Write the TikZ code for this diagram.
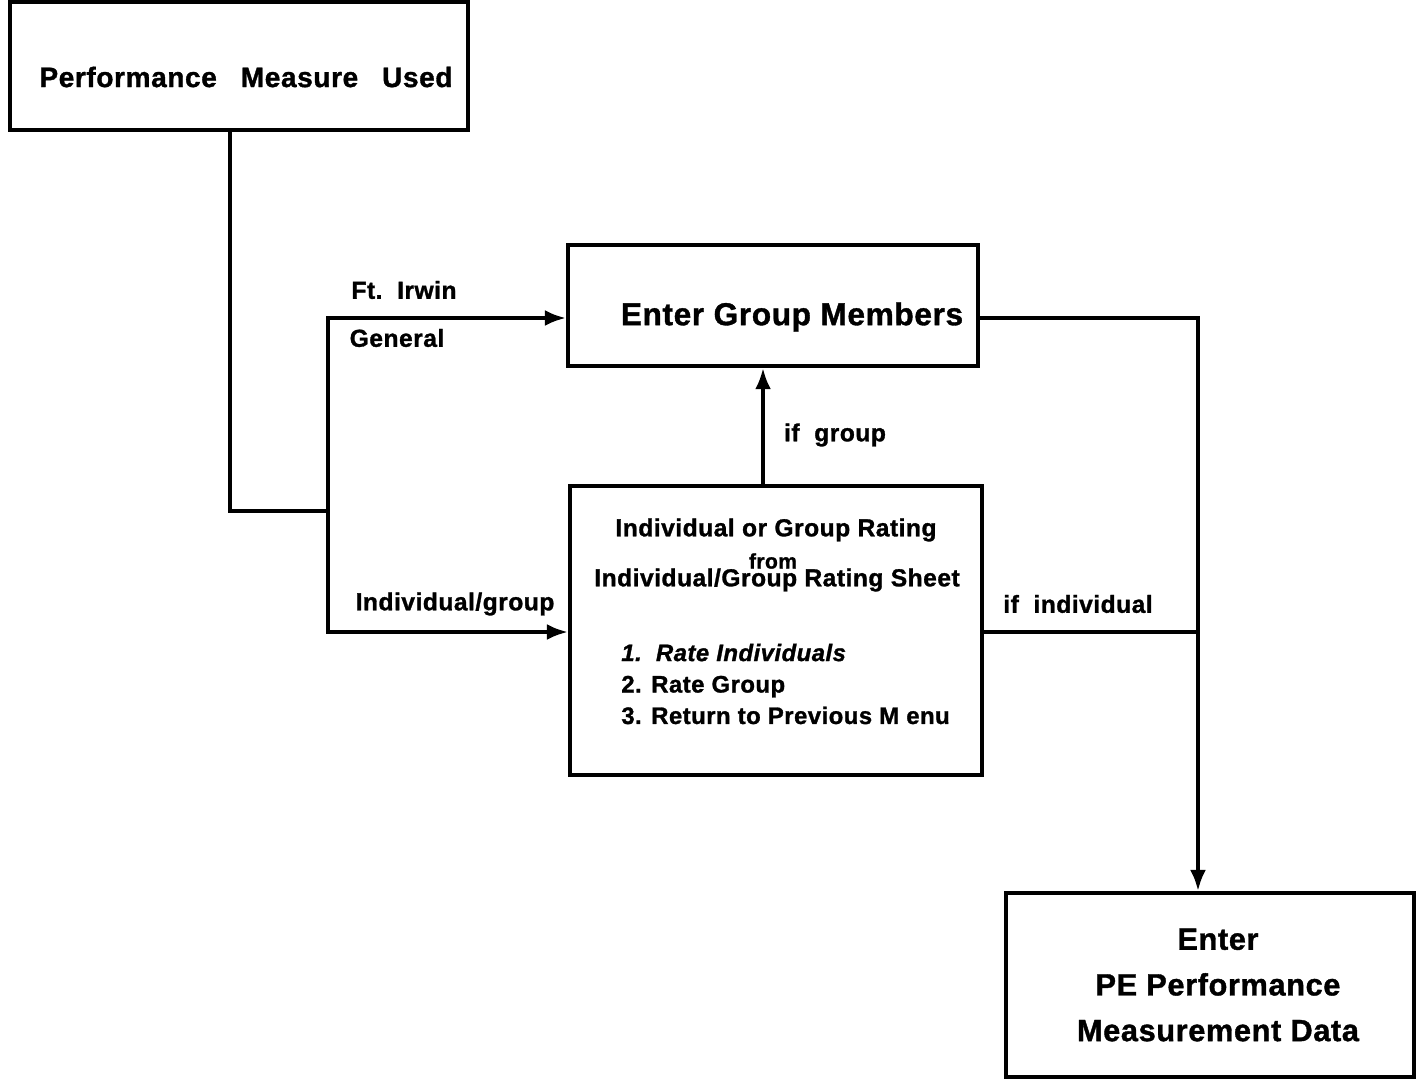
\documentclass[tikz,border=0pt]{standalone}
\usepackage{fontspec}
\setmainfont{Liberation Sans}[LetterSpace=2, BoldFeatures={FakeBold=1.2}, BoldItalicFeatures={FakeBold=1.2}]
\usetikzlibrary{arrows.meta}

\tikzset{
  box/.style={draw, line width=2.3pt, inner sep=0pt},
  wire/.style={line width=2.1pt},
  flow/.style={wire, -{Latex[length=12pt,width=9pt]}},
  tag/.style={font=\bfseries\fontsize{14}{16}\selectfont, inner sep=0pt},
  boxtext/.style={font=\bfseries\fontsize{#1}{#1}\selectfont, inner sep=0pt},
}

\begin{document}
\begin{tikzpicture}[x=0.02cm,y=-0.02cm]
  \useasboundingbox (0,0) rectangle (1416,1079);
  % boxes
  \node[box, minimum width=9.16cm, minimum height=2.56cm] (perf) at (239,66) {};
  \node[box, minimum width=8.2cm, minimum height=2.42cm] (members) at (773,305.5) {};
  \node[box, minimum width=8.24cm, minimum height=5.78cm] (rating) at (776,630.5) {};
  \node[box, minimum width=8.16cm, minimum height=3.68cm] (enter) at (1210,985) {};
  % box texts
  \node[boxtext=16] (perftext) at (246,77) {Performance\hspace{0.85em}Measure\hspace{0.85em}Used};
  \node[boxtext=18] (membtext) at (792,317) {Enter\ Group\ Members};
  \node[boxtext=14] (ratehead) at (776,530) {Individual\ or\ Group\ Rating};
  \node[boxtext=12] (ratefrom) at (773,561) {from};
  \node[boxtext=14] (ratesheet) at (777,580) {Individual/Group\ Rating\ Sheet};
  \node[boxtext=13.6, anchor=west, align=left, font=\bfseries\fontsize{13.6}{17.9}\selectfont]
    (ratemenu) at (621,684) {\textit{1.\ \ Rate Individuals}\\2. Rate Group\\3. Return to Previous M enu};
  \node[boxtext=17.5, align=center, font=\bfseries\fontsize{17.5}{26}\selectfont]
    (entertext) at (1218,985) {Enter\\PE Performance\\Measurement Data};
  % connectors
  \coordinate (bend) at (230,511);
  \coordinate (split) at (328,511);
  \coordinate (upper) at (328,318);
  \coordinate (lower) at (328,632);
  \coordinate (ifgx) at (763,486);
  \coordinate (rjoin) at (1198,632);
  \draw[wire] (bend |- perf.south) -- (bend) -- (split);
  \draw[flow] (split) -- (upper) -- (upper -| members.west);
  \draw[flow] (split) -- (lower) -- (lower -| rating.west);
  \draw[flow] (ifgx |- rating.north) -- (ifgx |- members.south);
  \draw[flow] (upper -| members.east) -| (rjoin |- enter.north);
  \draw[wire] (lower -| rating.east) -- (rjoin);
  % labels
  \node[tag] (irwin) at (404,290) {Ft.\ \ Irwin};
  \node[tag] (general) at (397,338) {General};
  \node[tag] (indgroup) at (455,604) {Individual/group};
  \node[tag] (ifgroup) at (835,435) {if\ \ group};
  \node[tag] (ifind) at (1078,604) {if\ \ individual};
\end{tikzpicture}
\end{document}
